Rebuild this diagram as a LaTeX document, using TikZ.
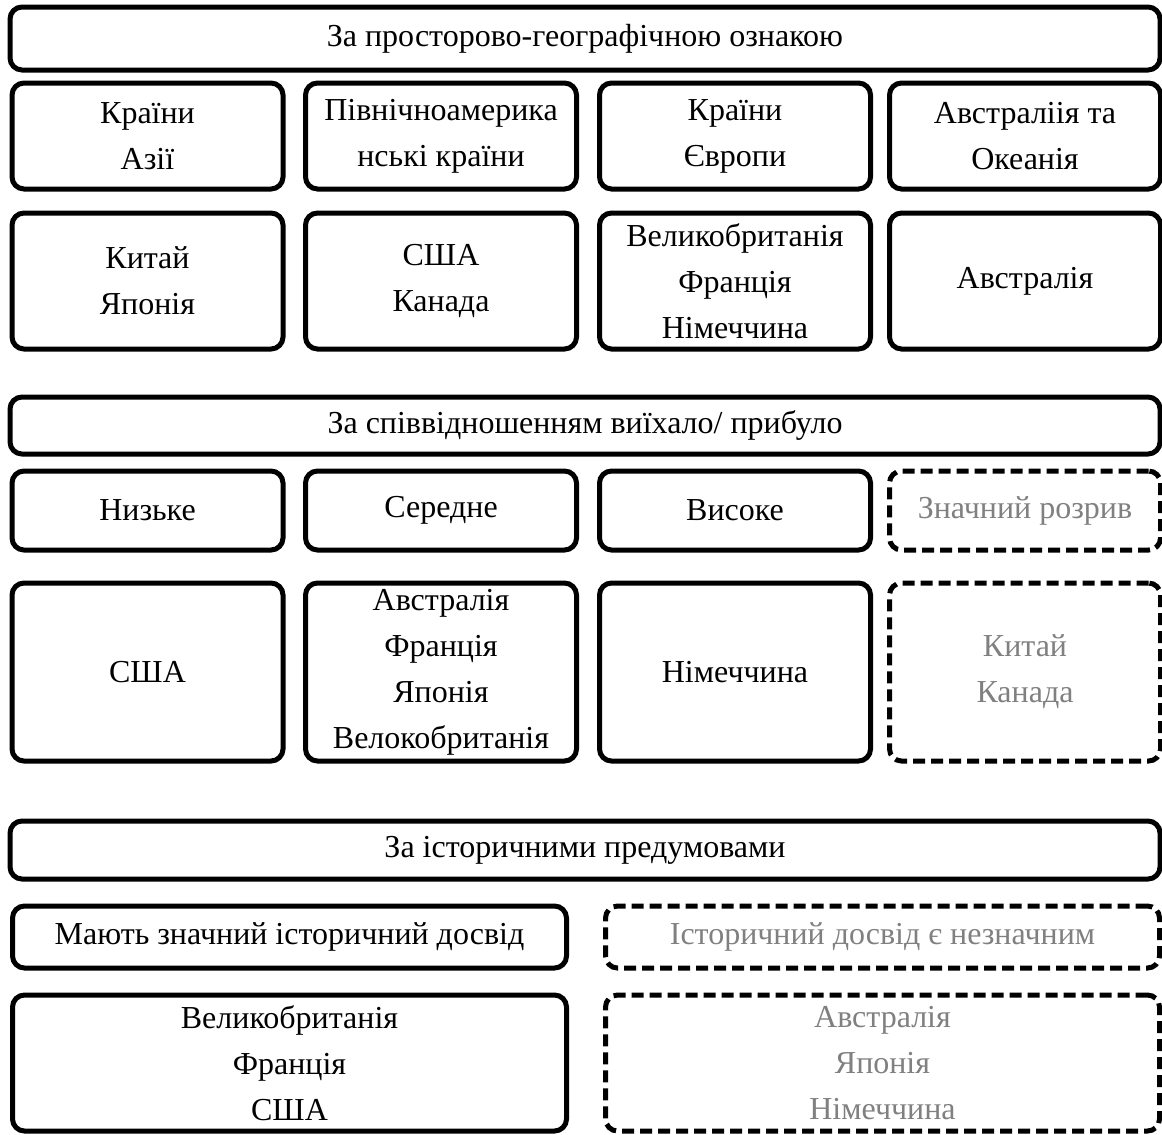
\documentclass[tikz,border=0pt]{standalone}
\usepackage{fontspec}
\setmainfont{Liberation Serif}
\usepackage{xcolor}
\usetikzlibrary{positioning}
\definecolor{mutedgray}{RGB}{128,128,128}
\tikzset{
  % базовий блок
  box/.style={
    draw=black,
    line width=2.5pt,
    rounded corners=6pt,
    align=center,
    inner sep=0pt,
    font=\fontsize{16}{23}\selectfont
  },
  % заголовок групи
  head/.style={box, minimum width=575pt},
  % пунктирний блок із сірим текстом
  gbox/.style={box, dash pattern=on 6pt off 3pt, text=mutedgray},
}

\begin{document}
\begin{tikzpicture}[x=0.5pt, y=-0.5pt,
        cell/.style={minimum width=135.5pt},
        wide/.style={minimum width=277pt}
    ]
        \useasboundingbox (0,0) rectangle (1162,1135);

        % За просторово-географічною ознакою
        \node[head, minimum height=31.5pt] (geo) at (585, 38.5) {За просторово-географічною ознакою};
        \node[box, cell, minimum height=53pt] (asia) at (147.5, 136) {Країни\\Азії};
        \node[box, cell, minimum height=53pt] (namer) at (441, 136) {Північноамерика\\нські країни};
        \node[box, cell, minimum height=53pt] (europe) at (735, 136) {Країни\\Європи};
        \node[box, cell, minimum height=53pt] (oceania) at (1025, 136) {Австраліія та\\Океанія};
        \node[box, cell, minimum height=68pt] (asiaC) at (147.5, 281) {Китай\\Японія};
        \node[box, cell, minimum height=68pt] (namerC) at (441, 281) {США\\Канада};
        \node[box, cell, minimum height=68pt] (europeC) at (735, 281) {Великобританія\\Франція\\Німеччина};
        \node[box, cell, minimum height=68pt] (oceaniaC) at (1025, 281) {Австралія};

        % За співвідношенням виїхало/прибуло
        \node[head, minimum height=28.5pt] (ratio) at (585, 425.5) {За співвідношенням виїхало/ прибуло};
        \node[box, cell, minimum height=39.5pt] (low) at (147.5, 510.5) {Низьке};
        \node[box, cell, minimum height=39.5pt] (mid) at (441, 510.5) {Середне};
        \node[box, cell, minimum height=39.5pt] (high) at (735, 510.5) {Високе};
        \node[gbox, cell, minimum height=39.5pt] (gap) at (1025, 510.5) {Значний розрив};
        \node[box, cell, minimum height=89pt] (lowC) at (147.5, 672) {США};
        \node[box, cell, minimum height=89pt] (midC) at (441, 672) {Австралія\\Франція\\Японія\\Велокобританія};
        \node[box, cell, minimum height=89pt] (highC) at (735, 672) {Німеччина};
        \node[gbox, cell, minimum height=89pt] (gapC) at (1025, 672) {Китай\\Канада};

        % За історичними передумовами
        \node[head, minimum height=29pt] (hist) at (585, 850) {За історичними предумовами};
        \node[box, wide, minimum height=31pt] (rich) at (289.5, 937) {Мають значний історичний досвід};
        \node[gbox, wide, minimum height=31pt] (poor) at (882.5, 937) {Історичний досвід є незначним};
        \node[box, wide, minimum height=68pt] (richC) at (289.5, 1063) {Великобританія\\Франція\\США};
        \node[gbox, wide, minimum height=68pt] (poorC) at (882.5, 1063) {Австралія\\Японія\\Німеччина};
    \end{tikzpicture}
\end{document}
